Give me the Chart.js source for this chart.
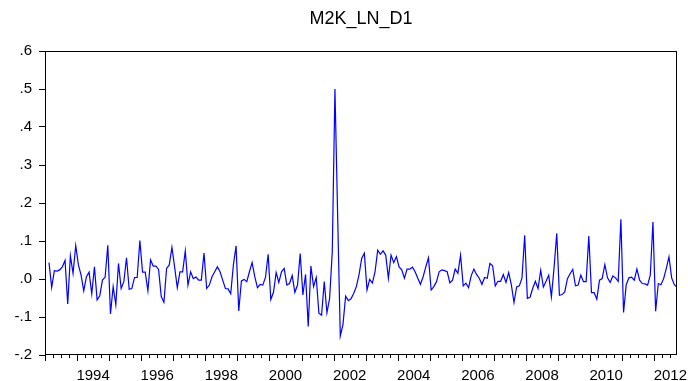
<!DOCTYPE html>
<html>
<head>
<meta charset="utf-8">
<title>M2K_LN_D1</title>
<script src="https://cdn.jsdelivr.net/npm/chart.js@4.4.0/dist/chart.umd.min.js"></script>
<style>
  html, body { margin: 0; padding: 0; background: #fff; }
  #wrap { width: 688px; height: 381px; }
</style>
</head>
<body>
<div id="wrap"><canvas id="m2k" width="688" height="381"></canvas></div>
<script>
// monthly series, first observation 1993M02
const startYear = 1993;
const startMonth = 2;

const m2kValues = [
  0.043, -0.022, 0.022, 0.021, 0.024, 0.032, 0.049, -0.066, 0.061, 0.015,
  0.088, 0.037, 0.010, -0.031, 0.006, 0.018, -0.039, 0.032, -0.055, -0.044,
  -0.003, 0.005, 0.089, -0.092, -0.020, -0.068, 0.041, -0.025, -0.007, 0.056,
  -0.027, -0.025, 0.004, 0.004, 0.101, 0.018, 0.018, -0.031, 0.050, 0.034,
  0.034, 0.025, -0.046, -0.061, 0.028, 0.037, 0.083, 0.032, -0.023, 0.019,
  0.019, 0.074, -0.016, 0.019, 0.001, 0.005, -0.003, -0.003, 0.068, -0.025,
  -0.016, 0.006, 0.019, 0.032, 0.019, -0.003, -0.025, -0.026, -0.039, 0.037,
  0.087, -0.084, -0.005, -0.001, -0.007, 0.019, 0.043, 0.006, -0.023, -0.014,
  -0.016, 0.004, 0.065, -0.054, -0.035, 0.017, -0.009, 0.019, 0.028, -0.016,
  -0.012, 0.009, -0.035, -0.016, 0.067, -0.042, 0.012, -0.125, 0.034, -0.020,
  0.004, -0.090, -0.095, -0.007, -0.089, -0.051, 0.072, 0.500, 0.170, -0.150,
  -0.120, -0.045, -0.057, -0.052, -0.038, -0.020, 0.011, 0.054, 0.068, -0.029,
  -0.001, -0.011, 0.019, 0.076, 0.065, 0.074, 0.063, 0.002, 0.063, 0.043,
  0.059, 0.032, 0.024, 0.002, 0.026, 0.026, 0.031, 0.019, 0.002, -0.014,
  0.006, 0.032, 0.056, -0.029, -0.020, -0.007, 0.019, 0.024, 0.022, 0.019,
  -0.010, -0.003, 0.026, 0.015, 0.063, -0.018, -0.011, -0.023, 0.009, 0.026,
  0.012, 0.002, -0.014, 0.004, 0.002, 0.041, 0.035, -0.018, -0.006, -0.006,
  0.012, -0.009, 0.017, -0.015, -0.062, -0.021, -0.018, 0.003, 0.115, -0.051,
  -0.048, -0.025, -0.006, -0.025, 0.023, -0.021, -0.006, 0.010, -0.047, 0.030,
  0.120, -0.043, -0.041, -0.034, 0.001, 0.014, 0.025, -0.018, -0.016, 0.010,
  -0.007, -0.007, 0.113, -0.036, -0.036, -0.053, -0.003, 0.001, 0.038, 0.003,
  -0.009, 0.008, 0.003, -0.006, 0.157, -0.088, -0.015, 0.003, 0.005, -0.003,
  0.026, -0.003, -0.012, -0.013, -0.016, 0.010, 0.150, -0.085, -0.012, -0.015,
  0.001, 0.028, 0.058, 0.003, -0.015, -0.022
];

const yearLabels = ['1994', '1996', '1998', '2000', '2002', '2004', '2006', '2008', '2010', '2012'];
const yTicks = [-0.2, -0.1, 0.0, 0.1, 0.2, 0.3, 0.4, 0.5, 0.6];

// x as decimal year, each month placed at its middle
const points = m2kValues.map(function (v, i) {
  return { x: startYear + (startMonth - 0.5 + i) / 12, y: v };
});
const lastX = points[points.length - 1].x;

const fontFamily = "'Liberation Sans', Arial, sans-serif";

// box around the plot and the quarterly / yearly tick marks under it
const frameTicks = {
  id: 'frameTicks',
  afterDraw(chart) {
    const ctx = chart.ctx;
    const a = chart.chartArea;
    const xs = chart.scales.x;
    ctx.save();
    ctx.strokeStyle = '#000';
    ctx.lineWidth = 1;
    ctx.strokeRect(a.left + 0.5, a.top + 0.5, a.right - a.left - 1, a.bottom - a.top - 1);
    ctx.beginPath();
    for (let q = startYear * 4; q <= Math.floor(lastX * 4); q++) {
      const px = Math.round(xs.getPixelForValue(q / 4)) + 0.5;
      const len = q % 4 === 0 ? 6 : 3;
      ctx.moveTo(px, a.bottom);
      ctx.lineTo(px, a.bottom + len);
    }
    ctx.stroke();
    ctx.restore();
  }
};

new Chart(document.getElementById('m2k'), {
  type: 'line',
  data: {
    datasets: [{
      data: points,
      borderColor: '#0000ff',
      borderWidth: 1.2,
      pointRadius: 0,
      tension: 0,
      fill: false
    }]
  },
  options: {
    responsive: false,
    animation: false,
    layout: { padding: { left: 0, right: 11, top: 0, bottom: 0 } },
    plugins: {
      legend: { display: false },
      tooltip: { enabled: false },
      title: {
        display: true,
        text: 'M2K_LN_D1',
        fullSize: false,
        color: '#000',
        font: { family: fontFamily, size: 18, weight: 'normal' },
        padding: { top: 8.2, bottom: 21.2 }
      }
    },
    scales: {
      x: {
        type: 'linear',
        min: startYear,
        max: lastX,
        grid: { display: false, drawTicks: false },
        border: { display: false },
        afterBuildTicks(scale) {
          scale.ticks = yearLabels.map(function (y) { return { value: Number(y) + 0.5 }; });
        },
        afterFit(scale) {
          scale.height = 26;
          scale.paddingLeft = 0;
          scale.paddingRight = 0;
        },
        ticks: {
          autoSkip: false,
          maxRotation: 0,
          padding: 12,
          color: '#000',
          font: { family: fontFamily, size: 15 },
          callback: function (value, index) { return yearLabels[index]; }
        }
      },
      y: {
        min: -0.2,
        max: 0.6,
        grid: { drawOnChartArea: false, tickLength: 6, color: '#000' },
        border: { display: false },
        afterBuildTicks(scale) {
          scale.ticks = yTicks.map(function (v) { return { value: v }; });
        },
        afterFit(scale) {
          scale.width = 45;
        },
        ticks: {
          padding: 7,
          color: '#000',
          font: { family: fontFamily, size: 15 },
          callback: function (value) {
            return Number(value).toFixed(1).replace('0.', '.');
          }
        }
      }
    }
  },
  plugins: [frameTicks]
});
</script>
</body>
</html>
